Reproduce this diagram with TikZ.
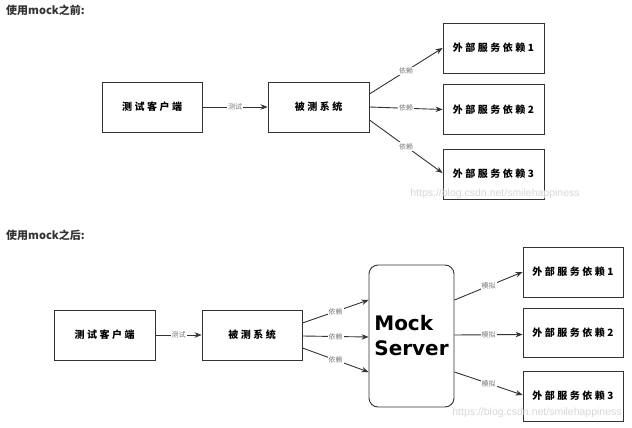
\documentclass[tikz,border=0pt]{standalone}
\usepackage{fontspec}
\usetikzlibrary{arrows.meta}
\newfontfamily\cjk{Noto Sans CJK SC}
\newfontfamily\cjkbox[LetterSpace=25]{Noto Sans CJK SC}
\newfontfamily\mockfont{DejaVu Sans}
\newfontfamily\wmfont{Liberation Sans}
\definecolor{ln}{HTML}{333333}
\definecolor{lbl}{HTML}{777777}
\definecolor{ttl}{HTML}{333333}
\definecolor{wm}{HTML}{D8D8D8}
\tikzset{
  box/.style={draw=ln, line width=0.9pt, minimum width=100pt, minimum height=50pt, inner sep=0pt,
    font=\cjkbox\bfseries\fontsize{10}{12}\selectfont, text=black},
  conn/.style={draw=ln, line width=0.9pt, -{Stealth[length=7pt,width=5.5pt]}},
  elbl/.style={fill=white, inner sep=1pt, text=lbl, font=\cjk\fontsize{7}{8}\selectfont},
  title/.style={anchor=west, inner sep=0pt, text=ttl, font=\cjk\bfseries\fontsize{11}{13}\selectfont},
  wmark/.style={inner sep=0pt, text=wm, font=\wmfont\fontsize{10.5}{12}\selectfont},
}
\begin{document}
\begin{tikzpicture}[x=1pt,y=-1pt]
\useasboundingbox[fill=white] (0,0) rectangle (632,428);

% ---------- top ----------
\node[title] (t1) at (6,10) {使用mock之前:};
\node[box, minimum width=100pt] (c1) at (152,107) {测试客户端};
\node[box, minimum width=101pt] (s1) at (318.5,107) {被测系统};
\node[box, minimum width=101pt] (e11) at (493.5,48) {外部服务依赖1};
\node[box, minimum width=101pt] (e12) at (493.5,109.5) {外部服务依赖2};
\node[box, minimum width=101pt] (e13) at (493.5,174) {外部服务依赖3};
\node[wmark] (w1) at (495,194) {https://blog.csdn.net/smilehappiness};

\draw[conn] (c1.east) -- node[elbl] {测试} (s1.west);
\draw[conn] ([yshift=13pt]s1.east) -- node[elbl] {依赖} (e11.west);
\draw[conn] (s1.east) -- node[elbl] {依赖} (e12.west);
\draw[conn] ([yshift=-13pt]s1.east) -- node[elbl] {依赖} ([yshift=1pt]e13.west);

% ---------- bottom ----------
\node[title] (t2) at (6,235) {使用mock之后:};
\node[box, minimum width=101pt] (c2) at (104.5,335) {测试客户端};
\node[box, minimum width=100pt] (s2) at (252,335) {被测系统};
\node[draw=ln, line width=0.9pt, rounded corners=9pt, minimum width=85pt, minimum height=142pt,
  inner sep=0pt, align=left, font=\mockfont\bfseries\fontsize{20}{25}\selectfont] (m) at (411.5,336) {Mock\\Server};
\node[box, minimum width=100pt] (e21) at (573,272) {外部服务依赖1};
\node[box, minimum width=100pt, minimum height=49pt] (e22) at (573,332.5) {外部服务依赖2};
\node[box, minimum width=100pt] (e23) at (573,396) {外部服务依赖3};
\node[wmark] (w2) at (537,413) {https://blog.csdn.net/smilehappiness};

\draw[conn] (c2.east) -- node[elbl] {测试} (s2.west);
\draw[conn] ([yshift=12pt]s2.east) -- node[elbl] {依赖} ([yshift=36pt]m.west);
\draw[conn] ([yshift=-1pt]s2.east) -- node[elbl] {依赖} ([yshift=-1pt]m.west);
\draw[conn] ([yshift=-13pt]s2.east) -- node[elbl] {依赖} ([yshift=-36pt]m.west);
\draw[conn] ([yshift=36pt]m.east) -- node[elbl] {模拟} (e21.west);
\draw[conn] ([yshift=1pt]m.east) -- node[elbl] {模拟} ([yshift=-2pt]e22.west);
\draw[conn] ([yshift=-36pt]m.east) -- node[elbl] {模拟} ([yshift=1pt]e23.west);
\end{tikzpicture}
\end{document}
